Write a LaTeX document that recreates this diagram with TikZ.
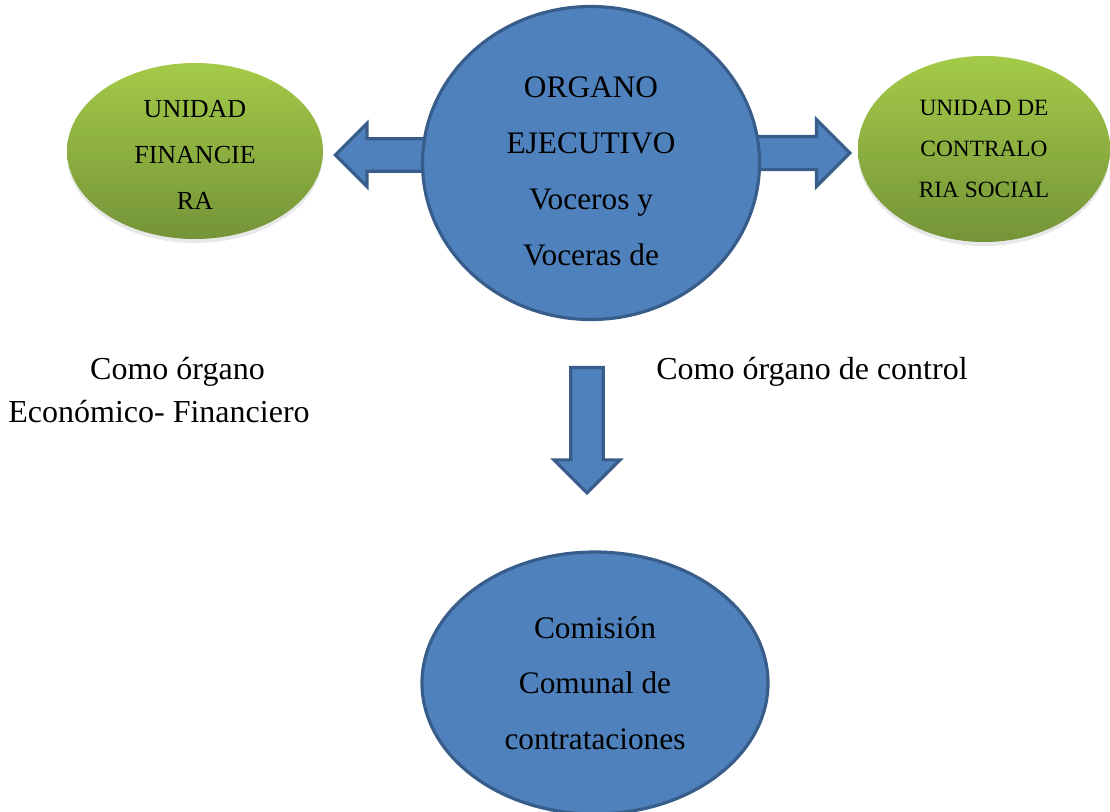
\documentclass[tikz,border=0pt]{standalone}
\usepackage{fontspec}
\setmainfont{Liberation Serif}
\usetikzlibrary{shapes.geometric,shapes.arrows,shadows}

\definecolor{orgblue}{RGB}{79,129,189}
\definecolor{orgborder}{RGB}{56,93,138}
\definecolor{greentop}{RGB}{164,202,72}
\definecolor{greenbot}{RGB}{116,148,56}

\tikzset{
  greenunit/.style={ellipse, top color=greentop, bottom color=greenbot, draw=none,
    drop shadow={opacity=0.18, shadow xshift=0pt, shadow yshift=-3pt},
    align=center, inner sep=0pt},
  blueorg/.style={ellipse, fill=orgblue, draw=orgborder, line width=2.4pt,
    align=center, inner sep=0pt},
  blockarrow/.style={single arrow, fill=orgblue, draw=orgborder, line width=2.4pt},
  plainlabel/.style={font=\fontsize{24}{30}\selectfont, align=center, inner sep=0pt}
}

\begin{document}
\begin{tikzpicture}[x=0.75pt, y=-0.75pt]
    \useasboundingbox (0, 0) rectangle (1110, 811);

    % block arrows, drawn first so the big ellipse covers their tails
    \node [blockarrow, shape border rotate=180, inner xsep=0pt, inner ysep=11pt,
           single arrow head extend=11.5pt, minimum height=78.75pt] (arrFin) at (396, 155) {};
    \node [blockarrow, inner xsep=0pt, inner ysep=11.25pt,
           single arrow head extend=12.5pt, minimum height=78.75pt] (arrCon) at (789, 153) {};
    \node [blockarrow, shape border rotate=270, inner xsep=11pt, inner ysep=0pt,
           single arrow head extend=12.5pt, minimum height=94pt] (arrCom) at (587, 422) {};

    % units
    \node [greenunit, minimum width=192pt, minimum height=132pt, text height=88pt,
           font=\fontsize{19.5}{34.5}\selectfont] (uFin) at (195, 151) {UNIDAD\\FINANCIE\\RA};
    \node [greenunit, minimum width=189pt, minimum height=139.5pt,
           font=\fontsize{17.5}{31}\selectfont] (uCon) at (984, 149) {UNIDAD DE\\CONTRALO\\RIA SOCIAL};

    \node [blueorg, minimum width=252.75pt, minimum height=234.75pt, text height=153.5pt,
           font=\fontsize{23.5}{42}\selectfont] (orgEje) at (591, 163)
           {ORGANO\\EJECUTIVO\\Voceros y\\Voceras de};
    \node [blueorg, minimum width=259.5pt, minimum height=196.5pt,
           font=\fontsize{23.5}{41.5}\selectfont] (comCom) at (595, 683)
           {Comisi\'on\\Comunal de\\contrataciones};

    % side labels
    \node [plainlabel] (lblFinA) at (177.5, 372) {Como \'organo};
    \node [plainlabel] (lblFinB) at (159, 412) {Econ\'omico- Financiero};
    \node [plainlabel] (lblCon) at (812, 372) {Como \'organo de control};
\end{tikzpicture}
\end{document}
